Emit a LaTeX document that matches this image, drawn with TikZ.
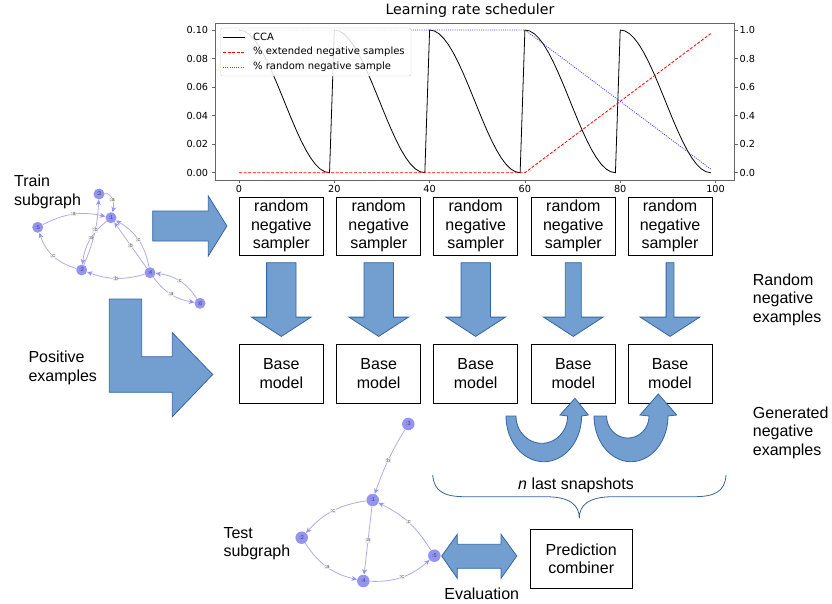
\documentclass[tikz,border=0pt]{standalone}
\usepackage{fontspec}
\setmainfont{Liberation Sans}
\newfontfamily\dejavu{DejaVu Sans}
\usetikzlibrary{arrows.meta,calc}
\definecolor{afill}{HTML}{729FCF}
\definecolor{aline}{HTML}{3465A4}
\definecolor{gnodec}{HTML}{9494F5}
\definecolor{gedge}{HTML}{ADADEA}
\definecolor{pblue}{HTML}{4040FF}
\begin{document}
\begin{tikzpicture}[x=1pt,y=-1pt,
  declare function={px(\t)=239+4.765*\t; cc(\t)=172.7-71.35*(1+cos(180*\t/19));},
  box/.style={draw=black, line width=0.8pt, fill=white, minimum width=84pt, minimum height=58pt, align=center, inner sep=0pt, font=\fontsize{16}{18.5}\selectfont},
  lbl/.style={align=left, anchor=west, inner sep=0pt, font=\fontsize{16}{18.5}\selectfont},
  blk/.style={fill=afill, draw=aline, line width=0.8pt, line join=miter},
  axc/.style={draw=black!60, line width=0.7pt},
  tick/.style={inner sep=0pt, font=\dejavu\fontsize{9.7}{11}\selectfont},
  bluedot/.style={draw=pblue, line width=0.8pt, dash pattern=on 1pt off 1.2pt},
  reddash/.style={draw=red, line width=0.8pt, dash pattern=on 3pt off 1.6pt},
  gn/.style={circle, fill=gnodec, inner sep=0pt, minimum size=11pt, font=\fontsize{5.5}{6}\selectfont, text=black!75},
  gnb/.style={gn, minimum size=12.5pt},
  ge/.style={draw=gedge, line width=0.8pt, -{Stealth[length=5.5pt,width=5pt,color=gnodec]}},
  el/.style={fill=gray!14, text=gray!75!black, inner sep=0.6pt, font=\fontsize{5.5}{6}\selectfont}
]
\useasboundingbox (0,0) rectangle (832,604);

% ---------------- plot ----------------
\node[font=\dejavu\fontsize{14.2}{16}\selectfont] (title) at (470,11) {Learning rate scheduler};
\draw[black, line width=0.8pt]
  plot[domain=0:19,samples=20] ({px(\x)},{cc(\x)})
  -- plot[domain=0:19,samples=20] ({px(\x+20)},{cc(\x)})
  -- plot[domain=0:19,samples=20] ({px(\x+40)},{cc(\x)})
  -- plot[domain=0:19,samples=20] ({px(\x+60)},{cc(\x)})
  -- plot[domain=0:19,samples=20] ({px(\x+80)},{cc(\x)});
\draw[reddash] ({px(0)},172.7) -- ({px(60)},172.7) -- ({px(99)},33.6);
\draw[bluedot] ({px(0)},30) -- ({px(60)},30) -- ({px(99)},169.1);
% legend
\filldraw[draw=black!20, fill=white, fill opacity=0.85, rounded corners=2pt] (220.7,28) rectangle (411,76);
\draw[black, line width=0.8pt] (223,37) -- (245,37);
\draw[reddash] (223,52) -- (245,52);
\draw[bluedot] (223,67) -- (245,67);
\node[anchor=west, inner sep=0pt, font=\dejavu\fontsize{10}{12}\selectfont] (l1) at (253,37) {CCA};
\node[anchor=west, inner sep=0pt, font=\dejavu\fontsize{10}{12}\selectfont] (l2) at (253,52) {\% extended negative samples};
\node[anchor=west, inner sep=0pt, font=\dejavu\fontsize{10}{12}\selectfont] (l3) at (253,67) {\% random negative sample};
% frame and ticks
\draw[axc] (215,23) rectangle (734,180);
\foreach \v in {0,20,...,100}
  \draw[axc] ({px(\v)},180) -- ++(0,3.5) node[tick, anchor=north, yshift=-1.5pt] {\v};
\foreach \k/\t in {0/0.00,1/0.02,2/0.04,3/0.06,4/0.08,5/0.10}
  \draw[axc] (215,{172.7-28.54*\k}) -- ++(-3.5,0) node[tick, anchor=east, xshift=-3pt] {\t};
\foreach \k/\t in {0/0.0,1/0.2,2/0.4,3/0.6,4/0.8,5/1.0}
  \draw[axc] (734,{172.7-28.54*\k}) -- ++(3.5,0) node[tick, anchor=west, xshift=1.8pt] {\t};

% ---------------- boxes ----------------
\foreach \i/\cx in {1/281.3,2/378.7,3/475.7,4/573.3,5/670} {
  \node[box] (s\i) at (\cx,226) {random\\negative\\sampler};
  \node[box, minimum height=59pt] (b\i) at (\cx,373.7) {Base\\model};
}
% down block arrows
\foreach \i/\w in {1/14.7,2/14.7,3/14.7,4/8,5/3.9} {
  \filldraw[blk] ($(s\i.south)+(-\w,7.3)$) -- ++(0,54.4) -- ++({\w-29.8},0) -- ++(29.8,19.3)
     -- ++(29.8,-19.3) -- ++({\w-29.8},0) -- ++(0,-54.4) -- cycle;
}

% train -> samplers arrow
\filldraw[blk] (152.7,211) -- (208.3,211) -- (208.3,196) -- ($(s1.west)+(-12,0)$) -- (208.3,256) -- (208.3,241) -- (152.7,241) -- cycle;
% L-shaped positive arrow
\filldraw[blk] (109.3,299) -- (141.7,299) -- (141.7,356.7) -- (172.3,356.7) -- (172.3,332.7) -- (212.7,374.5)
  -- (172.3,416.7) -- (172.3,392.3) -- (109.3,392.3) -- cycle;

% U-turn arrows
\filldraw[blk] plot[domain=0:180,samples=40] ({543.8-37.8*cos(\x)},{416+45.7*sin(\x)})
  -- (588.3,415) -- (575,398.3) -- (560,415)
  -- plot[domain=0:180,samples=40] ({541.8+25.8*cos(\x)},{416+27.3*sin(\x)}) -- cycle;
\filldraw[blk] plot[domain=0:180,samples=40] ({631-37*cos(\x)},{416+45.7*sin(\x)})
  -- (676.7,415) -- (658.3,394) -- (640,415)
  -- plot[domain=0:180,samples=40] ({627.8+21.2*cos(\x)},{416+22*sin(\x)}) -- cycle;

% brace
\draw[aline, line width=0.8pt] (432.7,475) .. controls (434,492) and (445,496.7) .. (465,496.7) -- (545,496.7)
  .. controls (570,496.7) and (579.3,505) .. (579.3,518.3)
  .. controls (579.3,505) and (588.6,496.7) .. (613.6,496.7) -- (694,496.7)
  .. controls (714,496.7) and (725,492) .. (726,475);
\node[font=\fontsize{16}{18.5}\selectfont, inner sep=0pt] (snap) at (576,485.7) {\textit{n} last snapshots};

% prediction combiner and evaluation arrow
\node[box, minimum width=102pt, minimum height=59pt] (pc) at (581.2,558.8) {Prediction\\combiner};
\filldraw[blk] (441.7,556) -- (457.3,534.3) -- (457.3,544.3) -- (501,544.3) -- (501,534.3) -- ($(pc.west)+(-13,-2.8)$)
  -- (501,578.3) -- (501,568.3) -- (457.3,568.3) -- (457.3,578.3) -- cycle;
\node[font=\fontsize{16}{18.5}\selectfont, inner sep=0pt] (eval) at (481.7,593.3) {Evaluation};

% side labels
\node[lbl] (trainlbl) at (14,191.7) {Train\\subgraph};
\node[lbl] (poslbl) at (28.3,368) {Positive\\examples};
\node[lbl] (rnlbl) at (752.7,299.7) {Random\\negative\\examples};
\node[lbl] (gnlbl) at (752.7,432.7) {Generated\\negative\\examples};
\node[lbl] (testlbl) at (223.3,543.8) {Test\\subgraph};

% ---------------- train subgraph ----------------
\node[gn] (t3) at (99,194) {:3};
\node[gn] (t1) at (111,217.7) {:1};
\node[gn] (t5) at (37.7,227.3) {:5};
\node[gn] (t2) at (81.7,270) {:2};
\node[gn] (t4) at (150,272.7) {:4};
\node[gn] (t6) at (200,303.3) {:6};
\draw[ge] (t3) to[out=5,in=75] node[el] {:a} (t1);
\draw[ge] (t5) to[bend left=20] node[el] {:a} (t1);
\draw[ge] (t2) to[bend left=28] node[el] {:c} (t5);
\draw[ge] (t1) to[bend right=22] node[el, pos=0.45] {:a} (t2);
\draw[ge] (t2) to[bend right=10] node[el, pos=0.55] {:b} (t3);
\draw[ge] (t4) to node[el] {:b} (t1);
\draw[ge] (t4) to[bend right=25] node[el] {:c} (t1);
\draw[ge] (t4) to[bend left=18] node[el] {:b} (t2);
\draw[ge] (t6) to[bend right=25] node[el] {:c} (t4);
\draw[ge] (t4) to[bend right=22] node[el] {:a} (t6);

% ---------------- test subgraph ----------------
\node[gnb] (u3) at (408.3,424) {:3};
\node[gnb] (u1) at (372.7,500) {:1};
\node[gnb] (u2) at (301.7,537.7) {:2};
\node[gnb] (u5) at (434.3,555.7) {:5};
\node[gnb] (u4) at (363.3,581) {:4};
\draw[ge] (u3) to[bend right=6] node[el] {:b} (u1);
\draw[ge] (u1) to[bend right=20] node[el] {:c} (u2);
\draw[ge] (u1) to node[el] {:a} (u4);
\draw[ge] (u2) to[bend right=22] node[el] {:a} (u4);
\draw[ge] (u4) to[bend right=22] node[el] {:c} (u5);
\draw[ge] (u5) to[bend right=16] node[el] {:c} (u1);
\end{tikzpicture}
\end{document}
